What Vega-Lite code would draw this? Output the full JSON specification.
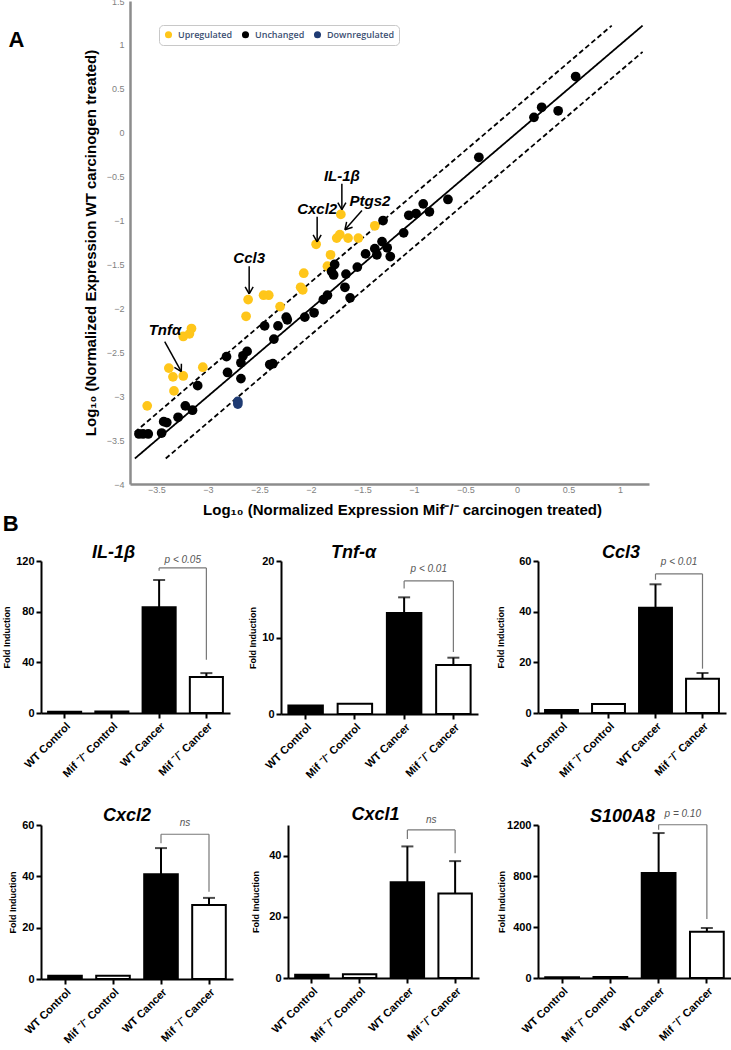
{
"$schema":"https://vega.github.io/schema/vega-lite/v6.json",
"padding":{"left":2,"top":-3,"right":0,"bottom":0},
"background":"white",
"datasets":{
"genes":[
{"x":-3.59,"y":-3.11,"status":"Upregulated"},{"x":-3.38,"y":-2.68,"status":"Upregulated"},{"x":-3.34,"y":-2.78,"status":"Upregulated"},{"x":-3.33,"y":-2.94,"status":"Upregulated"},{"x":-3.24,"y":-2.77,"status":"Upregulated"},{"x":-3.24,"y":-2.32,"status":"Upregulated"},{"x":-3.18,"y":-2.29,"status":"Upregulated"},{"x":-3.16,"y":-2.23,"status":"Upregulated"},{"x":-3.05,"y":-2.67,"status":"Upregulated"},{"x":-2.63,"y":-2.09,"status":"Upregulated"},{"x":-2.61,"y":-1.9,"status":"Upregulated"},{"x":-2.46,"y":-1.85,"status":"Upregulated"},{"x":-2.41,"y":-1.85,"status":"Upregulated"},{"x":-2.3,"y":-1.98,"status":"Upregulated"},{"x":-2.1,"y":-1.76,"status":"Upregulated"},{"x":-2.08,"y":-1.79,"status":"Upregulated"},{"x":-2.07,"y":-1.6,"status":"Upregulated"},{"x":-1.95,"y":-1.27,"status":"Upregulated"},{"x":-1.81,"y":-1.39,"status":"Upregulated"},{"x":-1.84,"y":-1.52,"status":"Upregulated"},{"x":-1.75,"y":-1.2,"status":"Upregulated"},{"x":-1.72,"y":-1.16,"status":"Upregulated"},{"x":-1.64,"y":-1.2,"status":"Upregulated"},{"x":-1.54,"y":-1.2,"status":"Upregulated"},{"x":-1.71,"y":-0.93,"status":"Upregulated"},{"x":-1.38,"y":-1.06,"status":"Upregulated"},
{"x":-3.67,"y":-3.43,"status":"Unchanged"},{"x":-3.63,"y":-3.43,"status":"Unchanged"},{"x":-3.58,"y":-3.43,"status":"Unchanged"},{"x":-3.45,"y":-3.42,"status":"Unchanged"},{"x":-3.43,"y":-3.29,"status":"Unchanged"},{"x":-3.4,"y":-3.3,"status":"Unchanged"},{"x":-3.29,"y":-3.24,"status":"Unchanged"},{"x":-3.22,"y":-3.11,"status":"Unchanged"},{"x":-3.15,"y":-3.16,"status":"Unchanged"},{"x":-3.1,"y":-2.88,"status":"Unchanged"},{"x":-2.82,"y":-2.55,"status":"Unchanged"},{"x":-2.81,"y":-2.73,"status":"Unchanged"},{"x":-2.68,"y":-2.8,"status":"Unchanged"},{"x":-2.68,"y":-2.62,"status":"Unchanged"},{"x":-2.66,"y":-2.54,"status":"Unchanged"},{"x":-2.62,"y":-2.49,"status":"Unchanged"},{"x":-2.45,"y":-2.2,"status":"Unchanged"},{"x":-2.4,"y":-2.64,"status":"Unchanged"},{"x":-2.37,"y":-2.63,"status":"Unchanged"},{"x":-2.36,"y":-2.35,"status":"Unchanged"},{"x":-2.32,"y":-2.2,"status":"Unchanged"},{"x":-2.24,"y":-2.1,"status":"Unchanged"},{"x":-2.23,"y":-2.13,"status":"Unchanged"},{"x":-2.06,"y":-2.1,"status":"Unchanged"},{"x":-1.97,"y":-2.05,"status":"Unchanged"},{"x":-1.88,"y":-1.9,"status":"Unchanged"},{"x":-1.84,"y":-1.85,"status":"Unchanged"},{"x":-1.8,"y":-1.58,"status":"Unchanged"},{"x":-1.78,"y":-1.62,"status":"Unchanged"},{"x":-1.77,"y":-1.5,"status":"Unchanged"},{"x":-1.67,"y":-1.76,"status":"Unchanged"},{"x":-1.66,"y":-1.61,"status":"Unchanged"},{"x":-1.62,"y":-1.88,"status":"Unchanged"},{"x":-1.55,"y":-1.53,"status":"Unchanged"},{"x":-1.47,"y":-1.38,"status":"Unchanged"},{"x":-1.38,"y":-1.32,"status":"Unchanged"},{"x":-1.36,"y":-1.39,"status":"Unchanged"},{"x":-1.31,"y":-1.24,"status":"Unchanged"},{"x":-1.26,"y":-1.31,"status":"Unchanged"},{"x":-1.23,"y":-1.41,"status":"Unchanged"},{"x":-1.3,"y":-1.0,"status":"Unchanged"},{"x":-1.1,"y":-1.14,"status":"Unchanged"},{"x":-1.05,"y":-0.94,"status":"Unchanged"},{"x":-0.98,"y":-0.92,"status":"Unchanged"},{"x":-0.91,"y":-0.81,"status":"Unchanged"},{"x":-0.85,"y":-0.9,"status":"Unchanged"},{"x":-0.67,"y":-0.76,"status":"Unchanged"},{"x":-0.37,"y":-0.28,"status":"Unchanged"},{"x":0.165,"y":0.175,"status":"Unchanged"},{"x":0.24,"y":0.29,"status":"Unchanged"},{"x":0.4,"y":0.25,"status":"Unchanged"},{"x":0.57,"y":0.64,"status":"Unchanged"},
{"x":-2.71,"y":-3.06,"status":"Downregulated"},{"x":-2.71,"y":-3.09,"status":"Downregulated"}
],
"lines":[
{"line":"equal","x":-3.71,"y":-3.71},{"line":"equal","x":1.22,"y":1.22},
{"line":"upper","x":-3.71,"y":-3.41},{"line":"upper","x":0.92,"y":1.22},
{"line":"lower","x":-3.41,"y":-3.71},{"line":"lower","x":1.22,"y":0.92}
],
"arrows":[
{"x":-1.7,"y":-0.58,"xe":-1.7,"ye":-0.877},{"x":-1.7,"y":-0.877,"xe":-1.739,"ye":-0.797},{"x":-1.7,"y":-0.877,"xe":-1.661,"ye":-0.797},
{"x":-1.94,"y":-0.957,"xe":-1.94,"ye":-1.242},{"x":-1.94,"y":-1.242,"xe":-1.979,"ye":-1.162},{"x":-1.94,"y":-1.242,"xe":-1.901,"ye":-1.162},
{"x":-2.6,"y":-1.52,"xe":-2.6,"ye":-1.835},{"x":-2.6,"y":-1.835,"xe":-2.639,"ye":-1.755},{"x":-2.6,"y":-1.835,"xe":-2.561,"ye":-1.755},
{"x":-1.505,"y":-0.885,"xe":-1.67,"ye":-1.105},{"x":-1.67,"y":-1.105,"xe":-1.596,"ye":-1.076},{"x":-1.67,"y":-1.105,"xe":-1.654,"ye":-1.015},
{"x":-3.42,"y":-2.378,"xe":-3.259,"ye":-2.72},{"x":-3.259,"y":-2.72,"xe":-3.258,"ye":-2.63},{"x":-3.259,"y":-2.72,"xe":-3.326,"ye":-2.672}
],
"labels":[
{"x":-1.7,"y":-0.49,"text":"IL-1β"},{"x":-1.427,"y":-0.783,"text":"Ptgs2"},{"x":-1.94,"y":-0.866,"text":"Cxcl2"},{"x":-2.6,"y":-1.425,"text":"Ccl3"},{"x":-3.417,"y":-2.245,"text":"Tnfα"}
],
"panelA":[{"panel":"A"}],
"bars":[
{"gene":"IL-1β","group":"WT Control","genotype":"WT","mean":1.0},
{"gene":"IL-1β","group":"Mif ⁻/⁻ Control","genotype":"Mif","mean":1.1},
{"gene":"IL-1β","group":"WT Cancer","genotype":"WT","mean":83.5,"errTop":105},
{"gene":"IL-1β","group":"Mif ⁻/⁻ Cancer","genotype":"Mif","mean":28.4,"errTop":31.5},
{"gene":"Tnf-α","group":"WT Control","genotype":"WT","mean":1.1},
{"gene":"Tnf-α","group":"Mif ⁻/⁻ Control","genotype":"Mif","mean":1.35},
{"gene":"Tnf-α","group":"WT Cancer","genotype":"WT","mean":13.2,"errTop":15.25},
{"gene":"Tnf-α","group":"Mif ⁻/⁻ Cancer","genotype":"Mif","mean":6.4,"errTop":7.36},
{"gene":"Ccl3","group":"WT Control","genotype":"WT","mean":1.2},
{"gene":"Ccl3","group":"Mif ⁻/⁻ Control","genotype":"Mif","mean":3.6},
{"gene":"Ccl3","group":"WT Cancer","genotype":"WT","mean":41.5,"errTop":50.8},
{"gene":"Ccl3","group":"Mif ⁻/⁻ Cancer","genotype":"Mif","mean":13.5,"errTop":15.8},
{"gene":"Cxcl2","group":"WT Control","genotype":"WT","mean":1.3},
{"gene":"Cxcl2","group":"Mif ⁻/⁻ Control","genotype":"Mif","mean":1.3},
{"gene":"Cxcl2","group":"WT Cancer","genotype":"WT","mean":40.8,"errTop":51.0},
{"gene":"Cxcl2","group":"Mif ⁻/⁻ Cancer","genotype":"Mif","mean":28.8,"errTop":31.6},
{"gene":"Cxcl1","group":"WT Control","genotype":"WT","mean":1.1},
{"gene":"Cxcl1","group":"Mif ⁻/⁻ Control","genotype":"Mif","mean":1.2},
{"gene":"Cxcl1","group":"WT Cancer","genotype":"WT","mean":31.3,"errTop":43.0},
{"gene":"Cxcl1","group":"Mif ⁻/⁻ Cancer","genotype":"Mif","mean":27.6,"errTop":38.2},
{"gene":"S100A8","group":"WT Control","genotype":"WT","mean":5},
{"gene":"S100A8","group":"Mif ⁻/⁻ Control","genotype":"Mif","mean":8},
{"gene":"S100A8","group":"WT Cancer","genotype":"WT","mean":823,"errTop":1137},
{"gene":"S100A8","group":"Mif ⁻/⁻ Cancer","genotype":"Mif","mean":363,"errTop":392}
],
"brackets":[
{"gene":"IL-1β","left":"WT Cancer","right":"Mif ⁻/⁻ Cancer","top":114.5,"leftLeg":112.3,"rightLeg":42,"label":"p < 0.05","labelY":121},
{"gene":"Tnf-α","left":"WT Cancer","right":"Mif ⁻/⁻ Cancer","top":17.4,"leftLeg":16.4,"rightLeg":8.1,"label":"p < 0.01","labelY":19},
{"gene":"Ccl3","left":"WT Cancer","right":"Mif ⁻/⁻ Cancer","top":54.9,"leftLeg":52.6,"rightLeg":17.5,"label":"p < 0.01","labelY":59.6},
{"gene":"Cxcl2","left":"WT Cancer","right":"Mif ⁻/⁻ Cancer","top":56.4,"leftLeg":52.9,"rightLeg":34,"label":"ns","labelY":60.8},
{"gene":"Cxcl1","left":"WT Cancer","right":"Mif ⁻/⁻ Cancer","top":48.4,"leftLeg":45.4,"rightLeg":40.8,"label":"ns","labelY":51.5},
{"gene":"S100A8","left":"WT Cancer","right":"Mif ⁻/⁻ Cancer","top":1202,"leftLeg":1163,"rightLeg":463,"label":"p = 0.10","labelY":1286}
]
},
"spacing":26,
"vconcat":[
{"spacing":-5,"vconcat":[
{"spacing":22,"hconcat":[
{"width":20,"height":483,"data":{"name":"panelA"},"mark":{"type":"point","opacity":0},
"encoding":{"y":{"field":"panel","type":"nominal","axis":{"title":"A","titleAngle":0,"titleFontSize":22,"titleFontWeight":"bold","titleFont":"Liberation Sans","titleColor":"black","titleAlign":"left","titleBaseline":"middle","titleX":-33,"titleY":38,"domain":false,"ticks":false,"labels":false,"grid":false}}}},
{"width":519,"height":483,
"encoding":{
"x":{"field":"x","type":"quantitative","scale":{"domain":[-3.757,1.282],"nice":false,"zero":false},
"axis":{"title":"Log₁₀ (Normalized Expression Mif⁻/⁻ carcinogen treated)","titleX":272,"values":[-3.5,-3,-2.5,-2,-1.5,-1,-0.5,0,0.5,1],"format":"~g","ticks":false,"domainColor":"#8c8c8c","domainWidth":2.5,"labelColor":"#7f7f7f","labelFontWeight":"normal","labelFontSize":9,"labelFont":"Liberation Sans Narrow, Liberation Sans","labelPadding":1,"titleFont":"Liberation Sans Narrow, Liberation Sans","titleFontSize":15,"titleFontWeight":"bold","titleColor":"black","titlePadding":8}},
"y":{"field":"y","type":"quantitative","scale":{"domain":[-4,1.5],"nice":false,"zero":false},
"axis":{"title":"Log₁₀ (Normalized Expression WT carcinogen treated)","values":[-4,-3.5,-3,-2.5,-2,-1.5,-1,-0.5,0,0.5,1,1.5],"format":"~g","ticks":false,"domainColor":"#8c8c8c","domainWidth":2.5,"labelColor":"#7f7f7f","labelFontWeight":"normal","labelFontSize":9,"labelFont":"Liberation Sans Narrow, Liberation Sans","labelPadding":6,"titleFont":"Liberation Sans","titleFontSize":15,"titleFontWeight":"bold","titleColor":"black","titlePadding":8}}
},
"layer":[
{"data":{"name":"lines"},"mark":{"type":"line","color":"black","strokeWidth":1.8},
"encoding":{"detail":{"field":"line"},"strokeDash":{"field":"line","type":"nominal","scale":{"domain":["equal","upper","lower"],"range":[[1,0],[5,3],[5,3]]},"legend":null}}},
{"data":{"name":"genes"},"mark":{"type":"circle","size":95,"opacity":1},
"encoding":{"color":{"field":"status","type":"nominal","scale":{"domain":["Upregulated","Unchanged","Downregulated"],"range":["#FFC61A","#000000","#1F3B73"]},
"legend":{"title":null,"orient":"none","legendX":118,"legendY":24,"direction":"horizontal","labelFontSize":9,"labelFont":"Open Sans","labelFontWeight":600,"labelColor":"#3B4F72","symbolSize":50,"symbolType":"circle","strokeColor":"#c8c8c8","cornerRadius":4,"padding":5,"fillColor":"white","columnPadding":8,"labelOffset":5}}}},
{"data":{"name":"arrows"},"mark":{"type":"rule","color":"black","strokeWidth":1.5},
"encoding":{"x2":{"field":"xe"},"y2":{"field":"ye"}}},
{"data":{"name":"labels"},"mark":{"type":"text","fontSize":15,"fontWeight":"bold","fontStyle":"italic","font":"Liberation Sans","color":"black"},
"encoding":{"text":{"field":"text"}}}
]}
]},
{"title":{"text":"B","anchor":"start","fontSize":22,"fontStyle":"normal","fontWeight":"bold","dx":0,"offset":8},
"spacing":18,
"hconcat":[
{"width":189,"height":152,"title":{"text":"IL-1β","dx":-22,"offset":-7},
"layer":[
{"data":{"name":"bars"},"transform":[{"filter":"datum.gene==='IL-1β'"}],"mark":{"type":"bar","width":{"band":0.7},"stroke":"black","strokeWidth":2},
"encoding":{"x":{"field":"group","type":"nominal","sort":null,"scale":{"domain":["WT Control","Mif ⁻/⁻ Control","WT Cancer","Mif ⁻/⁻ Cancer"],"paddingInner":0,"paddingOuter":0},"axis":{"title":null,"labelAngle":-45}},
"y":{"field":"mean","type":"quantitative","scale":{"domain":[0,120],"nice":false},"axis":{"title":"Fold Induction","values":[0,20,40,60,80,100,120]}},
"fill":{"field":"genotype","type":"nominal","scale":{"domain":["WT","Mif"],"range":["#000000","#ffffff"]},"legend":null}}},
{"data":{"name":"bars"},"transform":[{"filter":"datum.gene==='IL-1β' && datum.errTop != null"}],"mark":{"type":"rule","strokeWidth":2,"color":"black"},
"encoding":{"x":{"field":"group","type":"nominal","sort":null},"y":{"field":"mean","type":"quantitative"},"y2":{"field":"errTop"}}},
{"data":{"name":"bars"},"transform":[{"filter":"datum.gene==='IL-1β' && datum.errTop != null"}],"mark":{"type":"tick","thickness":2,"size":12,"color":"black"},
"encoding":{"x":{"field":"group","type":"nominal","sort":null},"y":{"field":"errTop","type":"quantitative"}}},
{"data":{"name":"brackets"},"transform":[{"filter":"datum.gene==='IL-1β'"}],"mark":{"type":"rule","color":"#777777","strokeWidth":1.2},
"encoding":{"x":{"field":"left","type":"nominal","sort":null},"x2":{"field":"right"},"y":{"field":"top","type":"quantitative"}}},
{"data":{"name":"brackets"},"transform":[{"filter":"datum.gene==='IL-1β'"}],"mark":{"type":"rule","color":"#777777","strokeWidth":1.2},
"encoding":{"x":{"field":"left","type":"nominal","sort":null},"y":{"field":"top","type":"quantitative"},"y2":{"field":"leftLeg"}}},
{"data":{"name":"brackets"},"transform":[{"filter":"datum.gene==='IL-1β'"}],"mark":{"type":"rule","color":"#777777","strokeWidth":1.2},
"encoding":{"x":{"field":"right","type":"nominal","sort":null},"y":{"field":"top","type":"quantitative"},"y2":{"field":"rightLeg"}}},
{"data":{"name":"brackets"},"transform":[{"filter":"datum.gene==='IL-1β'"}],"mark":{"type":"text","fontSize":10,"fontStyle":"italic","color":"#555555","baseline":"middle"},
"encoding":{"x":{"field":"left","type":"nominal","sort":null,"bandPosition":1},"y":{"field":"labelY","type":"quantitative"},"text":{"field":"label"}}}
]},
{"width":197,"height":153,"title":{"text":"Tnf-α","dx":-26,"offset":-7},
"layer":[
{"data":{"name":"bars"},"transform":[{"filter":"datum.gene==='Tnf-α'"}],"mark":{"type":"bar","width":{"band":0.7},"stroke":"black","strokeWidth":2},
"encoding":{"x":{"field":"group","type":"nominal","sort":null,"scale":{"domain":["WT Control","Mif ⁻/⁻ Control","WT Cancer","Mif ⁻/⁻ Cancer"],"paddingInner":0,"paddingOuter":0},"axis":{"title":null,"labelAngle":-45}},
"y":{"field":"mean","type":"quantitative","scale":{"domain":[0,20],"nice":false},"axis":{"title":"Fold Induction","values":[0,5,10,15,20]}},
"fill":{"field":"genotype","type":"nominal","scale":{"domain":["WT","Mif"],"range":["#000000","#ffffff"]},"legend":null}}},
{"data":{"name":"bars"},"transform":[{"filter":"datum.gene==='Tnf-α' && datum.errTop != null"}],"mark":{"type":"rule","strokeWidth":2,"color":"black"},
"encoding":{"x":{"field":"group","type":"nominal","sort":null},"y":{"field":"mean","type":"quantitative"},"y2":{"field":"errTop"}}},
{"data":{"name":"bars"},"transform":[{"filter":"datum.gene==='Tnf-α' && datum.errTop != null"}],"mark":{"type":"tick","thickness":2,"size":12,"color":"black"},
"encoding":{"x":{"field":"group","type":"nominal","sort":null},"y":{"field":"errTop","type":"quantitative"}}},
{"data":{"name":"brackets"},"transform":[{"filter":"datum.gene==='Tnf-α'"}],"mark":{"type":"rule","color":"#777777","strokeWidth":1.2},
"encoding":{"x":{"field":"left","type":"nominal","sort":null},"x2":{"field":"right"},"y":{"field":"top","type":"quantitative"}}},
{"data":{"name":"brackets"},"transform":[{"filter":"datum.gene==='Tnf-α'"}],"mark":{"type":"rule","color":"#777777","strokeWidth":1.2},
"encoding":{"x":{"field":"left","type":"nominal","sort":null},"y":{"field":"top","type":"quantitative"},"y2":{"field":"leftLeg"}}},
{"data":{"name":"brackets"},"transform":[{"filter":"datum.gene==='Tnf-α'"}],"mark":{"type":"rule","color":"#777777","strokeWidth":1.2},
"encoding":{"x":{"field":"right","type":"nominal","sort":null},"y":{"field":"top","type":"quantitative"},"y2":{"field":"rightLeg"}}},
{"data":{"name":"brackets"},"transform":[{"filter":"datum.gene==='Tnf-α'"}],"mark":{"type":"text","fontSize":10,"fontStyle":"italic","color":"#555555","baseline":"middle"},
"encoding":{"x":{"field":"left","type":"nominal","sort":null,"bandPosition":1},"y":{"field":"labelY","type":"quantitative"},"text":{"field":"label"}}}
]},
{"width":188,"height":152,"title":{"text":"Ccl3","dx":-11,"offset":-7},
"layer":[
{"data":{"name":"bars"},"transform":[{"filter":"datum.gene==='Ccl3'"}],"mark":{"type":"bar","width":{"band":0.7},"stroke":"black","strokeWidth":2},
"encoding":{"x":{"field":"group","type":"nominal","sort":null,"scale":{"domain":["WT Control","Mif ⁻/⁻ Control","WT Cancer","Mif ⁻/⁻ Cancer"],"paddingInner":0,"paddingOuter":0},"axis":{"title":null,"labelAngle":-45}},
"y":{"field":"mean","type":"quantitative","scale":{"domain":[0,60],"nice":false},"axis":{"title":"Fold Induction","titlePadding":13,"values":[0,20,40,60]}},
"fill":{"field":"genotype","type":"nominal","scale":{"domain":["WT","Mif"],"range":["#000000","#ffffff"]},"legend":null}}},
{"data":{"name":"bars"},"transform":[{"filter":"datum.gene==='Ccl3' && datum.errTop != null"}],"mark":{"type":"rule","strokeWidth":2,"color":"black"},
"encoding":{"x":{"field":"group","type":"nominal","sort":null},"y":{"field":"mean","type":"quantitative"},"y2":{"field":"errTop"}}},
{"data":{"name":"bars"},"transform":[{"filter":"datum.gene==='Ccl3' && datum.errTop != null"}],"mark":{"type":"tick","thickness":2,"size":12,"color":"black"},
"encoding":{"x":{"field":"group","type":"nominal","sort":null},"y":{"field":"errTop","type":"quantitative"}}},
{"data":{"name":"brackets"},"transform":[{"filter":"datum.gene==='Ccl3'"}],"mark":{"type":"rule","color":"#777777","strokeWidth":1.2},
"encoding":{"x":{"field":"left","type":"nominal","sort":null},"x2":{"field":"right"},"y":{"field":"top","type":"quantitative"}}},
{"data":{"name":"brackets"},"transform":[{"filter":"datum.gene==='Ccl3'"}],"mark":{"type":"rule","color":"#777777","strokeWidth":1.2},
"encoding":{"x":{"field":"left","type":"nominal","sort":null},"y":{"field":"top","type":"quantitative"},"y2":{"field":"leftLeg"}}},
{"data":{"name":"brackets"},"transform":[{"filter":"datum.gene==='Ccl3'"}],"mark":{"type":"rule","color":"#777777","strokeWidth":1.2},
"encoding":{"x":{"field":"right","type":"nominal","sort":null},"y":{"field":"top","type":"quantitative"},"y2":{"field":"rightLeg"}}},
{"data":{"name":"brackets"},"transform":[{"filter":"datum.gene==='Ccl3'"}],"mark":{"type":"text","fontSize":10,"fontStyle":"italic","color":"#555555","baseline":"middle"},
"encoding":{"x":{"field":"left","type":"nominal","sort":null,"bandPosition":1},"y":{"field":"labelY","type":"quantitative"},"text":{"field":"label"}}}
]}
]}
]},
{"spacing":18,
"hconcat":[
{"width":192,"height":154,"title":{"text":"Cxcl2","dx":-10,"offset":-7},
"layer":[
{"data":{"name":"bars"},"transform":[{"filter":"datum.gene==='Cxcl2'"}],"mark":{"type":"bar","width":{"band":0.7},"stroke":"black","strokeWidth":2},
"encoding":{"x":{"field":"group","type":"nominal","sort":null,"scale":{"domain":["WT Control","Mif ⁻/⁻ Control","WT Cancer","Mif ⁻/⁻ Cancer"],"paddingInner":0,"paddingOuter":0},"axis":{"title":null,"labelAngle":-45}},
"y":{"field":"mean","type":"quantitative","scale":{"domain":[0,60],"nice":false},"axis":{"title":"Fold Induction","values":[0,20,40,60]}},
"fill":{"field":"genotype","type":"nominal","scale":{"domain":["WT","Mif"],"range":["#000000","#ffffff"]},"legend":null}}},
{"data":{"name":"bars"},"transform":[{"filter":"datum.gene==='Cxcl2' && datum.errTop != null"}],"mark":{"type":"rule","strokeWidth":2,"color":"black"},
"encoding":{"x":{"field":"group","type":"nominal","sort":null},"y":{"field":"mean","type":"quantitative"},"y2":{"field":"errTop"}}},
{"data":{"name":"bars"},"transform":[{"filter":"datum.gene==='Cxcl2' && datum.errTop != null"}],"mark":{"type":"tick","thickness":2,"size":12,"color":"black"},
"encoding":{"x":{"field":"group","type":"nominal","sort":null},"y":{"field":"errTop","type":"quantitative"}}},
{"data":{"name":"brackets"},"transform":[{"filter":"datum.gene==='Cxcl2'"}],"mark":{"type":"rule","color":"#777777","strokeWidth":1.2},
"encoding":{"x":{"field":"left","type":"nominal","sort":null},"x2":{"field":"right"},"y":{"field":"top","type":"quantitative"}}},
{"data":{"name":"brackets"},"transform":[{"filter":"datum.gene==='Cxcl2'"}],"mark":{"type":"rule","color":"#777777","strokeWidth":1.2},
"encoding":{"x":{"field":"left","type":"nominal","sort":null},"y":{"field":"top","type":"quantitative"},"y2":{"field":"leftLeg"}}},
{"data":{"name":"brackets"},"transform":[{"filter":"datum.gene==='Cxcl2'"}],"mark":{"type":"rule","color":"#777777","strokeWidth":1.2},
"encoding":{"x":{"field":"right","type":"nominal","sort":null},"y":{"field":"top","type":"quantitative"},"y2":{"field":"rightLeg"}}},
{"data":{"name":"brackets"},"transform":[{"filter":"datum.gene==='Cxcl2'"}],"mark":{"type":"text","fontSize":10,"fontStyle":"italic","color":"#555555","baseline":"middle"},
"encoding":{"x":{"field":"left","type":"nominal","sort":null,"bandPosition":1},"y":{"field":"labelY","type":"quantitative"},"text":{"field":"label"}}}
]},
{"width":191,"height":153,"title":{"text":"Cxcl1","dx":-8,"offset":-9},
"layer":[
{"data":{"name":"bars"},"transform":[{"filter":"datum.gene==='Cxcl1'"}],"mark":{"type":"bar","width":{"band":0.7},"stroke":"black","strokeWidth":2},
"encoding":{"x":{"field":"group","type":"nominal","sort":null,"scale":{"domain":["WT Control","Mif ⁻/⁻ Control","WT Cancer","Mif ⁻/⁻ Cancer"],"paddingInner":0,"paddingOuter":0},"axis":{"title":null,"labelAngle":-45}},
"y":{"field":"mean","type":"quantitative","scale":{"domain":[0,50],"nice":false},"axis":{"title":"Fold Induction","titlePadding":8,"values":[0,10,20,30,40,50]}},
"fill":{"field":"genotype","type":"nominal","scale":{"domain":["WT","Mif"],"range":["#000000","#ffffff"]},"legend":null}}},
{"data":{"name":"bars"},"transform":[{"filter":"datum.gene==='Cxcl1' && datum.errTop != null"}],"mark":{"type":"rule","strokeWidth":2,"color":"black"},
"encoding":{"x":{"field":"group","type":"nominal","sort":null},"y":{"field":"mean","type":"quantitative"},"y2":{"field":"errTop"}}},
{"data":{"name":"bars"},"transform":[{"filter":"datum.gene==='Cxcl1' && datum.errTop != null"}],"mark":{"type":"tick","thickness":2,"size":12,"color":"black"},
"encoding":{"x":{"field":"group","type":"nominal","sort":null},"y":{"field":"errTop","type":"quantitative"}}},
{"data":{"name":"brackets"},"transform":[{"filter":"datum.gene==='Cxcl1'"}],"mark":{"type":"rule","color":"#777777","strokeWidth":1.2},
"encoding":{"x":{"field":"left","type":"nominal","sort":null},"x2":{"field":"right"},"y":{"field":"top","type":"quantitative"}}},
{"data":{"name":"brackets"},"transform":[{"filter":"datum.gene==='Cxcl1'"}],"mark":{"type":"rule","color":"#777777","strokeWidth":1.2},
"encoding":{"x":{"field":"left","type":"nominal","sort":null},"y":{"field":"top","type":"quantitative"},"y2":{"field":"leftLeg"}}},
{"data":{"name":"brackets"},"transform":[{"filter":"datum.gene==='Cxcl1'"}],"mark":{"type":"rule","color":"#777777","strokeWidth":1.2},
"encoding":{"x":{"field":"right","type":"nominal","sort":null},"y":{"field":"top","type":"quantitative"},"y2":{"field":"rightLeg"}}},
{"data":{"name":"brackets"},"transform":[{"filter":"datum.gene==='Cxcl1'"}],"mark":{"type":"text","fontSize":10,"fontStyle":"italic","color":"#555555","baseline":"middle"},
"encoding":{"x":{"field":"left","type":"nominal","sort":null,"bandPosition":1},"y":{"field":"labelY","type":"quantitative"},"text":{"field":"label"}}}
]},
{"width":193,"height":153,"title":{"text":"S100A8","dx":-12,"offset":-17},
"layer":[
{"data":{"name":"bars"},"transform":[{"filter":"datum.gene==='S100A8'"}],"mark":{"type":"bar","width":{"band":0.7},"stroke":"black","strokeWidth":2},
"encoding":{"x":{"field":"group","type":"nominal","sort":null,"scale":{"domain":["WT Control","Mif ⁻/⁻ Control","WT Cancer","Mif ⁻/⁻ Cancer"],"paddingInner":0,"paddingOuter":0},"axis":{"title":null,"labelAngle":-45}},
"y":{"field":"mean","type":"quantitative","scale":{"domain":[0,1200],"nice":false},"axis":{"title":"Fold Induction","titlePadding":0,"values":[0,200,400,600,800,1000,1200],"format":"d"}},
"fill":{"field":"genotype","type":"nominal","scale":{"domain":["WT","Mif"],"range":["#000000","#ffffff"]},"legend":null}}},
{"data":{"name":"bars"},"transform":[{"filter":"datum.gene==='S100A8' && datum.errTop != null"}],"mark":{"type":"rule","strokeWidth":2,"color":"black"},
"encoding":{"x":{"field":"group","type":"nominal","sort":null},"y":{"field":"mean","type":"quantitative"},"y2":{"field":"errTop"}}},
{"data":{"name":"bars"},"transform":[{"filter":"datum.gene==='S100A8' && datum.errTop != null"}],"mark":{"type":"tick","thickness":2,"size":12,"color":"black"},
"encoding":{"x":{"field":"group","type":"nominal","sort":null},"y":{"field":"errTop","type":"quantitative"}}},
{"data":{"name":"brackets"},"transform":[{"filter":"datum.gene==='S100A8'"}],"mark":{"type":"rule","color":"#777777","strokeWidth":1.2},
"encoding":{"x":{"field":"left","type":"nominal","sort":null},"x2":{"field":"right"},"y":{"field":"top","type":"quantitative"}}},
{"data":{"name":"brackets"},"transform":[{"filter":"datum.gene==='S100A8'"}],"mark":{"type":"rule","color":"#777777","strokeWidth":1.2},
"encoding":{"x":{"field":"left","type":"nominal","sort":null},"y":{"field":"top","type":"quantitative"},"y2":{"field":"leftLeg"}}},
{"data":{"name":"brackets"},"transform":[{"filter":"datum.gene==='S100A8'"}],"mark":{"type":"rule","color":"#777777","strokeWidth":1.2},
"encoding":{"x":{"field":"right","type":"nominal","sort":null},"y":{"field":"top","type":"quantitative"},"y2":{"field":"rightLeg"}}},
{"data":{"name":"brackets"},"transform":[{"filter":"datum.gene==='S100A8'"}],"mark":{"type":"text","fontSize":10,"fontStyle":"italic","color":"#555555","baseline":"middle"},
"encoding":{"x":{"field":"left","type":"nominal","sort":null,"bandPosition":1},"y":{"field":"labelY","type":"quantitative"},"text":{"field":"label"}}}
]}
]}
],
"config":{
"view":{"stroke":null},
"font":"Liberation Sans",
"axis":{"domainColor":"black","domainWidth":2,"tickColor":"black","tickWidth":2,"tickSize":5,"labelFontWeight":"bold","labelFontSize":11,"labelColor":"black","labelOverlap":false,"titleFontSize":9,"titleFontWeight":"bold","titleColor":"black","titlePadding":4,"grid":false,"labelFont":"Liberation Sans","titleFont":"Liberation Sans"},
"title":{"fontSize":18,"fontWeight":"bold","fontStyle":"italic","offset":4,"font":"Liberation Sans","color":"black"}
}
}
